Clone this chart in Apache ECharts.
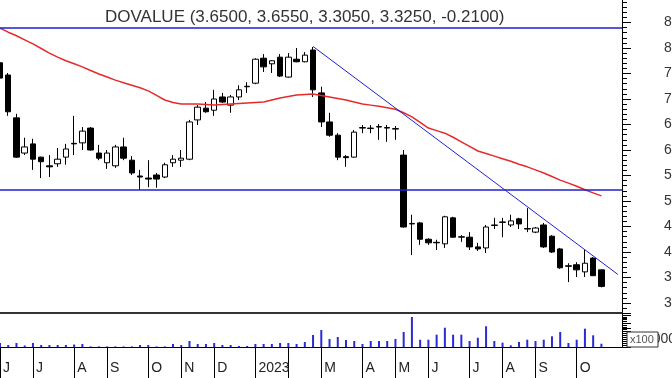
<!DOCTYPE html>
<html>
<head>
<meta charset="utf-8">
<script src="https://cdn.jsdelivr.net/npm/echarts/dist/echarts.min.js"></script>
<style>
  html, body { margin: 0; padding: 0; background: #fff; }
  #chart { width: 672px; height: 378px; }
</style>
</head>
<body>
<div id="chart"></div>
<script>
// weekly candles, week ending friday, from 2022-06-03
var firstWeek = new Date(Date.UTC(2022, 5, 3));
var totalSlots = 76; // 74 weeks of data + 2 empty slots on the right

// [open, close, low, high]
var candles = [
  [7.71, 7.41, 7.37, 7.96], [7.47, 6.75, 6.67, 7.51], [6.63, 5.86, 5.85, 6.71], [5.94, 6.06, 5.90, 6.24],
  [6.12, 5.82, 5.61, 6.22], [5.86, 5.77, 5.45, 5.87], [5.69, 5.67, 5.47, 5.90], [5.73, 5.82, 5.67, 6.04],
  [5.86, 6.02, 5.71, 6.12], [6.13, 6.12, 5.90, 6.67], [6.14, 6.37, 6.00, 6.45], [6.43, 6.00, 5.99, 6.45],
  [5.94, 5.84, 5.80, 6.10], [5.75, 5.94, 5.63, 6.00], [5.69, 6.06, 5.65, 6.10], [6.06, 5.84, 5.80, 6.24],
  [5.80, 5.55, 5.51, 5.88], [5.49, 5.47, 5.22, 5.61], [5.45, 5.43, 5.27, 5.80], [5.51, 5.43, 5.26, 5.55],
  [5.47, 5.71, 5.45, 5.75], [5.75, 5.82, 5.67, 5.90], [5.80, 5.84, 5.67, 6.00], [5.82, 6.55, 5.80, 6.59],
  [6.59, 6.84, 6.49, 6.88], [6.82, 6.75, 6.73, 6.94], [6.78, 7.00, 6.67, 7.18], [7.04, 6.94, 6.92, 7.12],
  [6.88, 7.04, 6.73, 7.08], [7.04, 7.18, 6.98, 7.27], [7.24, 7.25, 7.12, 7.33], [7.31, 7.78, 7.29, 7.80],
  [7.80, 7.63, 7.53, 7.88], [7.69, 7.75, 7.51, 7.76], [7.82, 7.45, 7.43, 7.88], [7.43, 7.82, 7.42, 7.90],
  [7.78, 7.73, 7.72, 8.00], [7.73, 7.86, 7.72, 7.92], [7.96, 7.18, 7.04, 8.02], [7.12, 6.55, 6.45, 7.24],
  [6.55, 6.29, 6.26, 6.73], [6.29, 5.86, 5.80, 6.33], [5.87, 5.85, 5.67, 5.90], [5.86, 6.35, 5.85, 6.39],
  [6.43, 6.44, 6.33, 6.49], [6.42, 6.43, 6.33, 6.49], [6.45, 6.46, 6.20, 6.51], [6.44, 6.43, 6.16, 6.49],
  [6.41, 6.42, 6.20, 6.47], [5.90, 4.49, 4.48, 6.00], [4.55, 4.56, 3.94, 4.73], [4.57, 4.25, 4.14, 4.59],
  [4.25, 4.18, 4.14, 4.27], [4.19, 4.18, 4.04, 4.24], [4.16, 4.69, 4.08, 4.71], [4.67, 4.29, 4.28, 4.69],
  [4.29, 4.30, 4.20, 4.33], [4.29, 4.10, 4.04, 4.39], [4.10, 4.06, 4.02, 4.18], [4.08, 4.49, 3.98, 4.53],
  [4.52, 4.53, 4.45, 4.67], [4.58, 4.59, 4.29, 4.67], [4.53, 4.61, 4.49, 4.73], [4.65, 4.55, 4.45, 4.67],
  [4.46, 4.45, 4.39, 4.86], [4.39, 4.47, 4.37, 4.49], [4.53, 4.10, 4.08, 4.57], [4.31, 4.00, 3.98, 4.33],
  [4.06, 3.69, 3.67, 4.08], [3.73, 3.72, 3.41, 3.78], [3.75, 3.65, 3.51, 3.80], [3.61, 3.78, 3.51, 4.04],
  [3.88, 3.535, 3.53, 3.90], [3.65, 3.325, 3.305, 3.655]
];

// moving average (red)
var movingAvg = [
  8.39, 8.31, 8.24, 8.16, 8.08, 7.99, 7.90, 7.82, 7.75, 7.69, 7.63, 7.56, 7.49, 7.43, 7.37, 7.32,
  7.27, 7.22, 7.16, 7.07, 6.98, 6.93, 6.90, 6.90, 6.90, 6.89, 6.88, 6.89, 6.90, 6.91, 6.92, 6.93,
  6.94, 6.98, 7.02, 7.05, 7.08, 7.09, 7.10, 7.07, 7.04, 7.01, 6.98, 6.94, 6.90, 6.88, 6.86, 6.83,
  6.80, 6.73, 6.65, 6.54, 6.43, 6.38, 6.33, 6.25, 6.16, 6.07, 5.98, 5.93, 5.88, 5.83, 5.78, 5.72,
  5.67, 5.61, 5.55, 5.48, 5.41, 5.35, 5.29, 5.22, 5.16, 5.10
];

// volume (x100)
var volume = [
  500, 250, 500, 190, 500, 250, 250, 250, 250, 310, 375, 75, 75, 75, 75, 75,
  75, 250, 250, 75, 75, 375, 250, 750, 375, 375, 500, 250, 250, 125, 125, 375,
  375, 375, 500, 500, 375, 625, 1500, 2125, 1000, 1250, 875, 750, 375, 750, 750, 750,
  1000, 1875, 3750, 910, 910, 1540, 2410, 1540, 1540, 750, 1160, 2590, 750, 540, 210, 625,
  910, 750, 910, 1340, 1875, 500, 910, 2290, 1460, 410
];

// horizontal lines and trend line
var resistanceLevel = 8.40;
var supportLevel = 5.22;
var trendStart = [38, 8.03];
var trendEnd = [75, 3.56];

// month separators on the bottom row
var monthTickIdx = [0, 4, 9, 13, 18, 22, 26, 31, 35, 39, 44, 48, 52, 57, 61, 65, 70];
var monthTickText = ['J', 'J', 'A', 'S', 'O', 'N', 'D', '2023', '', 'M', 'A', 'M', 'J', 'J', 'A', 'S', 'O'];

var weeks = [];
for (var i = 0; i < totalSlots; i++) {
  var d = new Date(firstWeek.getTime() + i * 7 * 86400000);
  weeks.push(d.toISOString().slice(0, 10));
}

var last = candles[candles.length - 1];
var prevClose = candles[candles.length - 2][1];
var titleText = 'DOVALUE (' + last[0].toFixed(4) + ', ' + last[3].toFixed(4) + ', ' +
  last[2].toFixed(4) + ', ' + last[1].toFixed(4) + ', ' + (last[1] - prevClose).toFixed(4) + ')';

function isMonthStart(index) {
  return monthTickIdx.indexOf(index) >= 0;
}

var font = 'Liberation Sans, Arial, sans-serif';
var blue = '#1f1fd2';

var chart = echarts.init(document.getElementById('chart'));
chart.setOption({
  animation: false,
  title: {
    text: titleText,
    left: 100,
    top: 4,
    textStyle: { fontSize: 17, fontWeight: 'normal', color: '#333', fontFamily: font }
  },
  grid: [
    { left: -4.13, right: 50, top: -3, bottom: 49.5, outerBoundsMode: 'none', containLabel: false },
    { left: -4.13, right: 50, top: 313, bottom: 31, outerBoundsMode: 'none', containLabel: false }
  ],
  xAxis: [
    { type: 'category', gridIndex: 0, data: weeks, show: false },
    {
      type: 'category', gridIndex: 1, data: weeks, position: 'bottom',
      axisLine: { lineStyle: { color: '#000', width: 1 } },
      axisTick: {
        show: true, alignWithLabel: true, length: 31,
        interval: function (index) { return isMonthStart(index); },
        lineStyle: { color: '#000' }
      },
      axisLabel: {
        interval: function (index) { return isMonthStart(index); },
        formatter: function (val, index) {
          var k = monthTickIdx.indexOf(index);
          return k >= 0 ? monthTickText[k] : '';
        },
        align: 'left', padding: [0, 0, 0, 3], margin: 14,
        fontSize: 14, color: '#222', fontFamily: font
      }
    },
    {
      type: 'category', gridIndex: 1, data: weeks, position: 'top',
      axisLine: { lineStyle: { color: '#333', width: 2 } },
      axisTick: { show: false }, axisLabel: { show: false }
    }
  ],
  yAxis: [
    {
      type: 'value', gridIndex: 0, position: 'right',
      min: 2.5, max: 9, interval: 0.5,
      splitLine: { show: false },
      axisLine: { show: true, lineStyle: { color: '#000' } },
      axisTick: { show: true, length: 9, lineStyle: { color: '#000' } },
      minorTick: { show: true, splitNumber: 5, length: 5, lineStyle: { color: '#000' } },
      axisLabel: {
        margin: 42, fontSize: 14, color: '#333', fontFamily: font,
        showMinLabel: false, showMaxLabel: false,
        formatter: function (v) { return v.toFixed(2); }
      }
    },
    {
      type: 'value', gridIndex: 1, position: 'right',
      min: 0, max: 4250, interval: 1000,
      splitLine: { show: false },
      axisLine: { show: true, lineStyle: { color: '#000' } },
      axisTick: { show: true, length: 9, lineStyle: { color: '#000' } },
      minorTick: { show: true, splitNumber: 4, length: 5, lineStyle: { color: '#000' } },
      axisLabel: {
        margin: 23, fontSize: 14, color: '#333', fontFamily: font,
        formatter: function (v) { return v === 1000 ? '1000' : ''; }
      }
    }
  ],
  series: [
    {
      name: 'DOVALUE',
      type: 'candlestick',
      xAxisIndex: 0, yAxisIndex: 0,
      data: candles,
      barWidth: 6,
      itemStyle: {
        color: '#fff', color0: '#000',
        borderColor: '#000', borderColor0: '#000', borderWidth: 1
      },
      markLine: {
        silent: true,
        symbol: 'none',
        label: { show: false },
        data: [
          { yAxis: resistanceLevel, lineStyle: { color: blue, width: 1.5, type: 'solid' } },
          { yAxis: supportLevel, lineStyle: { color: blue, width: 1.5, type: 'solid' } },
          [
            { coord: [weeks[trendStart[0]], trendStart[1]], lineStyle: { color: blue, width: 1, type: 'solid' } },
            { coord: [weeks[trendEnd[0]], trendEnd[1]] }
          ]
        ]
      }
    },
    {
      name: 'MA',
      type: 'line',
      xAxisIndex: 0, yAxisIndex: 0,
      data: movingAvg,
      symbol: 'none',
      lineStyle: { color: '#e62a2a', width: 1.5 },
      z: 3
    },
    {
      name: 'Volume',
      type: 'bar',
      xAxisIndex: 1, yAxisIndex: 1,
      data: volume,
      barWidth: 2,
      itemStyle: { color: '#2a2ad6' }
    }
  ],
  graphic: [
    {
      type: 'rect', z: 100,
      shape: { x: 627, y: 332, width: 31, height: 15 },
      style: { fill: '#fff', stroke: '#333', lineWidth: 1 }
    },
    {
      type: 'text', z: 101, left: 630, top: 334,
      style: { text: 'x100', fontSize: 11, fill: '#555', fontFamily: font }
    }
  ]
});
</script>
</body>
</html>
